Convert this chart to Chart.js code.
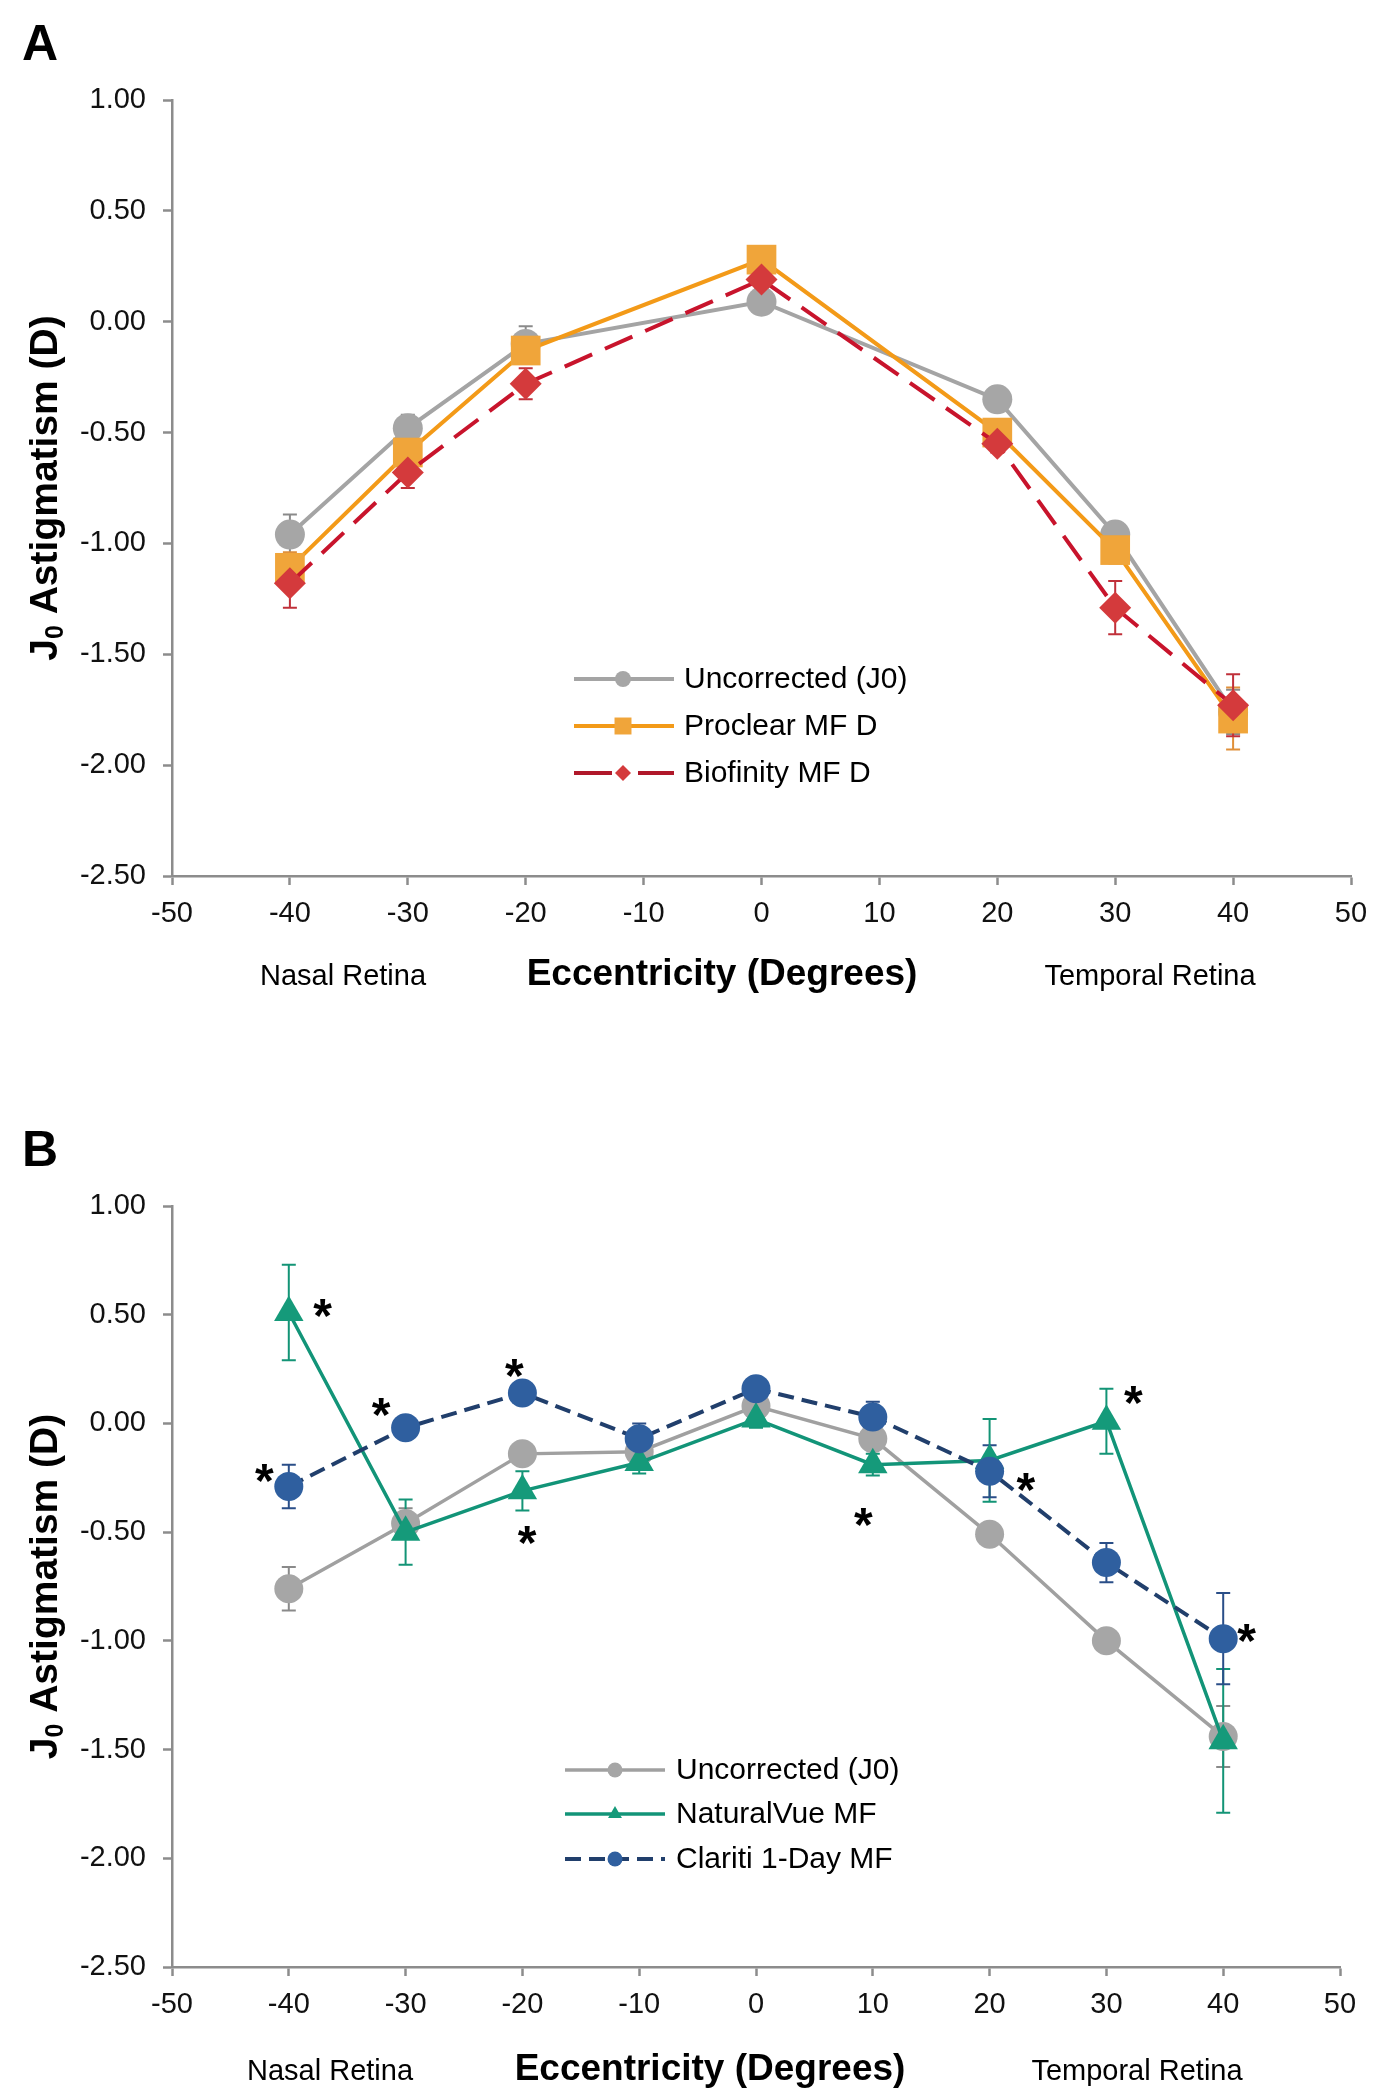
<!DOCTYPE html>
<html><head><meta charset="utf-8">
<script src="https://cdn.jsdelivr.net/npm/chart.js@4.4.1/dist/chart.umd.min.js"></script>
<style>
html,body{margin:0;padding:0;background:#fff;}
#wrap{position:relative;width:1384px;height:2100px;overflow:hidden;}
.pane{position:absolute;left:0;width:1384px;}
canvas{display:block;}
</style></head><body>
<div id="wrap">
<div class="pane" style="top:0;height:1040px"><canvas id="cA" width="1384" height="1040"></canvas></div>
<div class="pane" style="top:1080px;height:1020px"><canvas id="cB" width="1384" height="1020"></canvas></div>
</div>
<script>
// ---------- Data ----------
const xTicksMin = -50, xTicksMax = 50, xStep = 10;
const yTicksMin = -2.5, yTicksMax = 1.0, yStep = 0.5;

// Panel A
const eccA = [-40, -30, -20, 0, 20, 30, 40];
const uncorrA = [-0.96, -0.48, -0.10, 0.09, -0.35, -0.96, -1.76];
const proclearA = [-1.11, -0.59, -0.13, 0.28, -0.50, -1.03, -1.79];
const biofinityA = [-1.18, -0.68, -0.28, 0.19, -0.55, -1.29, -1.73];
const uncorrErrA = [0.09, 0.06, 0.08, 0.03, 0.03, 0.04, 0.10];
const proclearErrA = [0.07, 0.07, 0.06, 0.04, 0.04, 0.06, 0.14];
const biofinityErrA = [0.11, 0.07, 0.07, 0.04, 0.04, 0.12, 0.14];

// Panel B
const eccB = [-40, -30, -20, -10, 0, 10, 20, 30, 40];
const uncorrB = [-0.76, -0.46, -0.14, -0.13, 0.08, -0.07, -0.51, -1.00, -1.44];
const naturalVueB = [0.51, -0.50, -0.31, -0.18, 0.02, -0.19, -0.17, 0.01, -1.46];
const claritiB = [-0.29, -0.02, 0.14, -0.07, 0.16, 0.03, -0.22, -0.64, -0.99];
const uncorrErrB = [0.10, 0.07, 0.05, 0.05, 0.04, 0.04, 0.04, 0.05, 0.14];
const naturalVueErrB = [0.22, 0.15, 0.09, 0.05, 0.04, 0.05, 0.19, 0.15, 0.33];
const claritiErrB = [0.10, 0.05, 0.04, 0.07, 0.04, 0.07, 0.12, 0.09, 0.21];

// Significance asterisks (panel B), data coordinates
const starX = [-37.1, -42.1, -32.1, -20.7, -19.6, 9.2, 23.1, 32.3, 42.0];
const starY = [0.545, -0.214, 0.092, 0.269, -0.498, -0.414, -0.253, 0.146, -0.95];

// Labels
const labelsA = ['Uncorrected (J0)', 'Proclear MF D', 'Biofinity MF D'];
const labelsB = ['Uncorrected (J0)', 'NaturalVue MF', 'Clariti 1-Day MF'];
const xTitle = 'Eccentricity (Degrees)';
const nasalLabel = 'Nasal Retina';
const temporalLabel = 'Temporal Retina';

// ---------- Helpers ----------
const FONT = "'Liberation Sans', Arial, Helvetica, sans-serif";
Chart.defaults.font.family = FONT;
Chart.defaults.color = '#111';

function pts(xs, ys) { return xs.map((x, i) => ({ x: x, y: ys[i] })); }

function drawMarker(ctx, style, x, y, r) {
  ctx.beginPath();
  if (style === 'circle') {
    ctx.arc(x, y, r, 0, Math.PI * 2);
  } else if (style === 'rect') {
    const s = r * Math.SQRT1_2;
    ctx.rect(x - s, y - s, 2 * s, 2 * s);
  } else if (style === 'rectRot') {
    ctx.moveTo(x, y - r); ctx.lineTo(x + r, y); ctx.lineTo(x, y + r); ctx.lineTo(x - r, y);
  } else if (style === 'triangle') {
    let a = 0;
    ctx.moveTo(x + Math.sin(a) * r, y - Math.cos(a) * r);
    a += 2 * Math.PI / 3;
    ctx.lineTo(x + Math.sin(a) * r, y - Math.cos(a) * r);
    a += 2 * Math.PI / 3;
    ctx.lineTo(x + Math.sin(a) * r, y - Math.cos(a) * r);
  }
  ctx.closePath();
  ctx.fill();
}

function makeDecor(cfg) {
  return {
    id: 'decor',
    beforeDatasetsDraw(chart) {
      const ctx = chart.ctx, ys = chart.scales.y;
      chart.data.datasets.forEach((ds, di) => {
        if (!ds.errorBars) return;
        const meta = chart.getDatasetMeta(di);
        ctx.save();
        ctx.strokeStyle = ds.errorColor;
        ctx.lineWidth = 2;
        ctx.setLineDash([]);
        meta.data.forEach((el, i) => {
          const v = ds.data[i].y, e = ds.errorBars[i];
          const x = el.x;
          const y1 = ys.getPixelForValue(v + e), y2 = ys.getPixelForValue(v - e);
          ctx.beginPath();
          ctx.moveTo(x, y1); ctx.lineTo(x, y2);
          ctx.moveTo(x - 7, y1); ctx.lineTo(x + 7, y1);
          ctx.moveTo(x - 7, y2); ctx.lineTo(x + 7, y2);
          ctx.stroke();
        });
        ctx.restore();
      });
    },
    afterDatasetsDraw(chart) {
      if (!cfg.stars) return;
      const ctx = chart.ctx, xs = chart.scales.x, ys = chart.scales.y;
      const fs = 48;
      ctx.save();
      ctx.fillStyle = '#000';
      ctx.font = 'bold ' + fs + 'px ' + FONT;
      ctx.textAlign = 'center';
      ctx.textBaseline = 'alphabetic';
      cfg.stars.x.forEach((sx, i) => {
        const px = xs.getPixelForValue(sx), py = ys.getPixelForValue(cfg.stars.y[i]);
        ctx.fillText('*', px, py + 0.57 * fs);
      });
      ctx.restore();
    },
    afterDraw(chart) {
      const ctx = chart.ctx;
      const area = chart.chartArea;
      ctx.save();
      // Panel letter
      ctx.fillStyle = '#000';
      ctx.font = 'bold 50px ' + FONT;
      ctx.textAlign = 'left';
      ctx.textBaseline = 'alphabetic';
      ctx.fillText(cfg.letter, 22, cfg.letterBase);

      // X titles
      ctx.textAlign = 'center';
      ctx.font = 'bold 37px ' + FONT;
      ctx.fillText(xTitle, cfg.xTitleX, cfg.titleBase);
      ctx.font = '29px ' + FONT;
      ctx.fillText(nasalLabel, cfg.nasalX, cfg.titleBase);
      ctx.fillText(temporalLabel, cfg.temporalX, cfg.titleBase);

      // Y title (rotated, with subscript)
      const cy = (area.top + area.bottom) / 2;
      ctx.save();
      ctx.translate(57, cy);
      ctx.rotate(-Math.PI / 2);
      ctx.textAlign = 'left';
      const fBig = 'bold 39px ' + FONT, fSub = 'bold 25px ' + FONT;
      ctx.font = fBig; const wJ = ctx.measureText('J').width;
      ctx.font = fSub; const w0 = ctx.measureText('0').width;
      ctx.font = fBig; const wRest = ctx.measureText(' Astigmatism (D)').width;
      let sx = -(wJ + w0 + wRest) / 2;
      ctx.font = fBig; ctx.fillText('J', sx, 0); sx += wJ;
      ctx.font = fSub; ctx.fillText('0', sx, 6); sx += w0;
      ctx.font = fBig; ctx.fillText(' Astigmatism (D)', sx, 0);
      ctx.restore();

      // Legend
      const L = cfg.legend;
      ctx.font = '30px ' + FONT;
      ctx.textAlign = 'left';
      ctx.textBaseline = 'middle';
      L.order.forEach((di, row) => {
        const ds = chart.data.datasets[di];
        const y = L.rows[row];
        ctx.save();
        ctx.strokeStyle = ds.legendLineColor || ds.borderColor;
        ctx.lineWidth = ds.borderWidth;
        ctx.setLineDash(ds.legendDash || ds.borderDash || []);
        ctx.beginPath();
        ctx.moveTo(L.x0, y); ctx.lineTo(L.x1, y);
        ctx.stroke();
        ctx.setLineDash([]);
        ctx.fillStyle = ds.pointBackgroundColor;
        drawMarker(ctx, ds.pointStyle, L.xm, y, ds.legendRadius);
        ctx.restore();
        ctx.fillStyle = '#000';
        ctx.fillText(ds.label, L.xt, y + 1);
      });
      ctx.restore();
    }
  };
}

function axisOptions(xHeight) {
  const gridCommon = {
    display: true, drawOnChartArea: false, drawTicks: true,
    tickLength: 9, tickColor: '#8c8c8c', tickWidth: 2.5
  };
  return {
    x: {
      type: 'linear', min: xTicksMin, max: xTicksMax,
      ticks: { stepSize: xStep, autoSkip: false, maxRotation: 0, padding: 12,
               font: { size: 29 }, color: '#111' },
      grid: gridCommon,
      border: { display: true, color: '#8c8c8c', width: 2.5 },
      afterFit: (s) => { s.height = xHeight; }
    },
    y: {
      type: 'linear', min: yTicksMin, max: yTicksMax,
      ticks: { stepSize: yStep, padding: 17, font: { size: 29 }, color: '#111',
               callback: (v) => Number(v).toFixed(2) },
      grid: gridCommon,
      border: { display: true, color: '#8c8c8c', width: 2.5 },
      afterFit: (s) => { s.width = 172; }
    }
  };
}

// ---------- Panel A ----------
new Chart(document.getElementById('cA'), {
  type: 'scatter',
  data: {
    datasets: [
      { label: labelsA[0], data: pts(eccA, uncorrA), showLine: true,
        borderColor: '#a4a4a4', borderWidth: 4, pointStyle: 'circle', pointRadius: 15,
        pointBackgroundColor: '#a6a6a6', pointBorderColor: '#a6a6a6', pointBorderWidth: 0,
        order: 2, errorBars: uncorrErrA, errorColor: '#8a8a8a', legendRadius: 8 },
      { label: labelsA[1], data: pts(eccA, proclearA), showLine: true,
        borderColor: '#f39a18', borderWidth: 4, pointStyle: 'rect', pointRadius: 21,
        pointBackgroundColor: '#f0a53a', pointBorderColor: '#f0a53a', pointBorderWidth: 0,
        order: 1, errorBars: proclearErrA, errorColor: '#e0903a', legendRadius: 12 },
      { label: labelsA[2], data: pts(eccA, biofinityA), showLine: true,
        borderColor: '#c8142c', borderWidth: 4, borderDash: [30, 14], pointStyle: 'rectRot', pointRadius: 16,
        pointBackgroundColor: '#d43a3c', pointBorderColor: '#d43a3c', pointBorderWidth: 0,
        order: 0, errorBars: biofinityErrA, errorColor: '#c0303a', legendRadius: 8,
        legendLineColor: '#b0182a', legendDash: [38, 26] }
    ]
  },
  options: {
    responsive: false, animation: false,
    layout: { padding: { left: 0, right: 33, top: 100, bottom: 0 } },
    plugins: { legend: { display: false }, tooltip: { enabled: false } },
    scales: axisOptions(164)
  },
  plugins: [makeDecor({
    letter: 'A', letterBase: 60,
    xTitleX: 722, nasalX: 343, temporalX: 1150, titleBase: 985,
    legend: { order: [0, 1, 2], rows: [679, 726, 773], x0: 574, x1: 674, xm: 623, xt: 684 }
  })]
});

// ---------- Panel B ----------
new Chart(document.getElementById('cB'), {
  type: 'scatter',
  data: {
    datasets: [
      { label: labelsB[0], data: pts(eccB, uncorrB), showLine: true,
        borderColor: '#a0a0a0', borderWidth: 3.5, pointStyle: 'circle', pointRadius: 14.5,
        pointBackgroundColor: '#a6a6a6', pointBorderColor: '#a6a6a6', pointBorderWidth: 0,
        order: 2, errorBars: uncorrErrB, errorColor: '#8a8a8a', legendRadius: 7.5 },
      { label: labelsB[1], data: pts(eccB, naturalVueB), showLine: true,
        borderColor: '#129478', borderWidth: 3.5, pointStyle: 'triangle', pointRadius: 17,
        pointBackgroundColor: '#159a7a', pointBorderColor: '#159a7a', pointBorderWidth: 0,
        order: 1, errorBars: naturalVueErrB, errorColor: '#139476', legendRadius: 8 },
      { label: labelsB[2], data: pts(eccB, claritiB), showLine: true,
        borderColor: '#213f6c', borderWidth: 4, borderDash: [16, 8], pointStyle: 'circle', pointRadius: 14.5,
        pointBackgroundColor: '#2f5f9f', pointBorderColor: '#2f5f9f', pointBorderWidth: 0,
        order: 0, errorBars: claritiErrB, errorColor: '#2a4e88', legendRadius: 7.5 }
    ]
  },
  options: {
    responsive: false, animation: false,
    layout: { padding: { left: 0, right: 44, top: 126, bottom: 0 } },
    plugins: { legend: { display: false }, tooltip: { enabled: false } },
    scales: axisOptions(133)
  },
  plugins: [makeDecor({
    letter: 'B', letterBase: 86,
    xTitleX: 710, nasalX: 330, temporalX: 1137, titleBase: 1000,
    stars: { x: starX, y: starY },
    legend: { order: [0, 1, 2], rows: [690, 734, 779], x0: 565, x1: 665, xm: 615, xt: 676 }
  })]
});
</script>
</body></html>
